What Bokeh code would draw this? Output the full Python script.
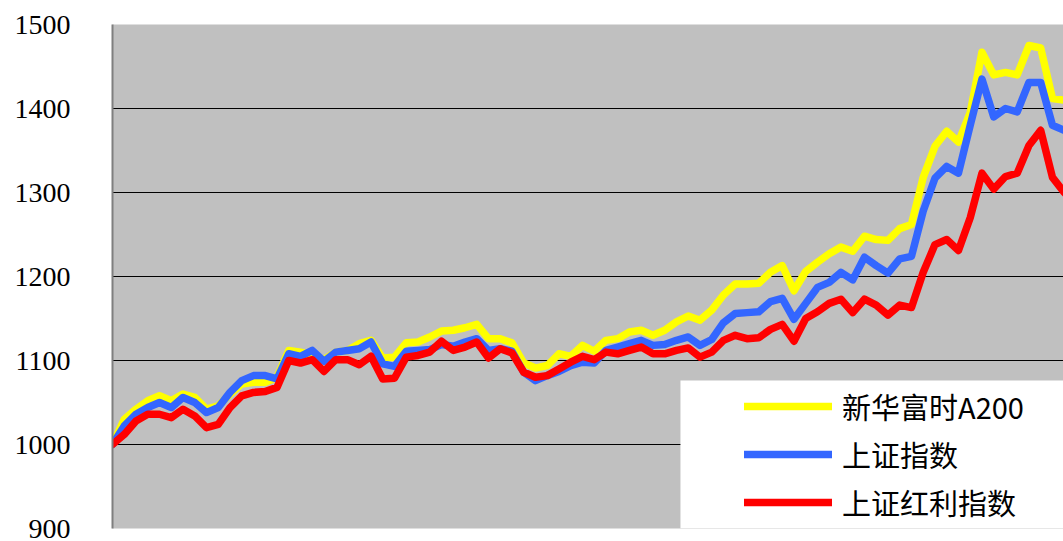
from bokeh.plotting import figure
from bokeh.models import Range1d, FixedTicker, Legend, LegendItem, BoxAnnotation
from bokeh.embed import file_html
from bokeh.resources import INLINE

labels = ["新华富时A200", "上证指数", "上证红利指数"]
colors = ["#FFFF00", "#3366FF", "#FF0000"]

a200 = [1000, 1030, 1042, 1052, 1058, 1052, 1060, 1056, 1042, 1046,
        1060, 1072, 1074, 1074, 1080, 1112, 1110, 1106, 1101, 1110,
        1112, 1120, 1124, 1103, 1104, 1121, 1122, 1128, 1135, 1136,
        1139, 1143, 1126, 1126, 1121, 1097, 1091, 1094, 1108, 1105,
        1118, 1111, 1124, 1126, 1134, 1136, 1130, 1136, 1146, 1153,
        1148, 1160, 1178, 1191, 1191, 1192, 1205, 1213, 1183, 1206,
        1217, 1227, 1235, 1230, 1248, 1244, 1243, 1257, 1262, 1318,
        1355, 1373, 1360, 1395, 1467, 1440, 1443, 1440, 1475, 1472,
        1412, 1410, 1409]

sh_index = [1000, 1022, 1036, 1044, 1050, 1044, 1056, 1050, 1038, 1044,
            1062, 1076, 1082, 1082, 1078, 1108, 1105, 1112, 1099, 1110,
            1112, 1114, 1122, 1096, 1093, 1111, 1112, 1113, 1119, 1117,
            1122, 1126, 1112, 1114, 1111, 1086, 1076, 1082, 1087, 1094,
            1098, 1097, 1112, 1116, 1120, 1124, 1118, 1119, 1124, 1128,
            1118, 1125, 1145, 1156, 1157, 1158, 1170, 1174, 1149, 1168,
            1187, 1193, 1205, 1196, 1223, 1213, 1204, 1221, 1224, 1278,
            1317, 1331, 1323, 1380, 1435, 1390, 1400, 1396, 1431, 1431,
            1380, 1374, 1373]

sh_dividend = [1000, 1012, 1028, 1036, 1036, 1032, 1042, 1034, 1020, 1024,
               1044, 1058, 1062, 1063, 1068, 1100, 1097, 1101, 1087, 1101,
               1101, 1095, 1105, 1078, 1079, 1104, 1106, 1110, 1123, 1112,
               1116, 1122, 1103, 1114, 1109, 1086, 1080, 1082, 1090, 1098,
               1105, 1101, 1110, 1108, 1112, 1116, 1108, 1108, 1112, 1115,
               1104, 1110, 1124, 1130, 1126, 1127, 1137, 1143, 1123, 1150,
               1158, 1168, 1173, 1157, 1173, 1166, 1154, 1166, 1163, 1205,
               1238, 1244, 1231, 1270, 1323, 1304, 1319, 1323, 1356, 1374,
               1318, 1300, 1288]

y_ticks = [900, 1000, 1100, 1200, 1300, 1400, 1500]

x = list(range(len(a200)))

p = figure(width=1063, height=541, output_backend="svg", toolbar_location=None,
           x_range=Range1d(0, 80.94), y_range=Range1d(900, 1500),
           min_border_left=112, min_border_right=0, min_border_top=24,
           min_border_bottom=13)
p.background_fill_color = "#C0C0C0"
p.border_fill_color = "white"
p.outline_line_color = None

p.xaxis.visible = False
p.xgrid.visible = False

p.yaxis.ticker = FixedTicker(ticks=y_ticks)
p.yaxis.major_tick_out = 0
p.yaxis.major_tick_in = 0
p.yaxis.minor_tick_out = 0
p.yaxis.minor_tick_in = 0
p.yaxis.axis_line_color = "#7F7F7F"
p.yaxis.axis_line_width = 2
p.yaxis.major_label_standoff = 42
p.yaxis.major_label_text_font = "'Liberation Serif'"
p.yaxis.major_label_text_font_size = "28px"
p.yaxis.major_label_text_color = "black"

p.ygrid.ticker = FixedTicker(ticks=y_ticks)
p.ygrid.grid_line_color = "black"
p.ygrid.grid_line_width = 1

renderers = []
for series, c in zip([a200, sh_index, sh_dividend], colors):
    r = p.line(x, series, line_color=c, line_width=7.5,
               line_join="round", line_cap="round")
    renderers.append(r)

box = BoxAnnotation(left=48.34, top=1076.2, fill_color="white", fill_alpha=1.0,
                    line_color=None)
p.add_layout(box)

legend = Legend(items=[LegendItem(label=l, renderers=[r]) for l, r in zip(labels, renderers)],
                location=(632, 5), orientation="vertical",
                glyph_width=88, glyph_height=42, label_height=42,
                spacing=6, padding=0, margin=0, label_standoff=10,
                label_text_font="Noto Sans CJK SC", label_text_font_size="29px",
                label_text_color="black",
                background_fill_alpha=0, border_line_color=None)
p.add_layout(legend, "center")

open("out.html", "w").write(file_html(p, INLINE))
